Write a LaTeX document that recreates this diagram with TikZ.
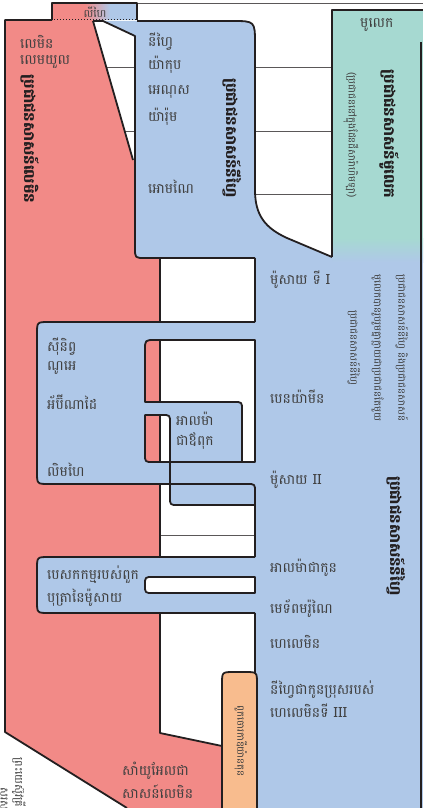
\documentclass[tikz,border=0pt]{standalone}
\usepackage{fontspec}
\newfontfamily\khmer[Script=Khmer]{Battambang}
\usetikzlibrary{positioning}

\definecolor{lamanred}{HTML}{F28A87}
\definecolor{nephiblue}{HTML}{AFC8E8}
\definecolor{mulekteal}{HTML}{A6D9D1}
\definecolor{robberorange}{HTML}{F8BC8E}
\definecolor{inkgray}{HTML}{231F20}
\definecolor{labelgray}{HTML}{404040}

\tikzset{
  edge/.style={draw=inkgray, line width=1.8pt, line join=round},
  timeline/.style={draw=inkgray!75, line width=0.6pt},
  person/.style={font=\khmer\fontsize{14}{23}\selectfont, text=labelgray, anchor=west, inner sep=0pt, align=left},
  people/.style={font=\khmer\bfseries\fontsize{15}{18}\selectfont, text=inkgray, rotate=-90, inner sep=0pt},
  remark/.style={font=\khmer\fontsize{10}{24}\selectfont, text=labelgray, rotate=-90, inner sep=0pt, align=center},
}

\begin{document}
\begin{tikzpicture}[x=1pt,y=-1pt]
\useasboundingbox (0,0) rectangle (423,808);
\fill[white] (0,0) rectangle (423,808);

% time lines
\draw[timeline] (137,3) -- (423,3);
\draw[timeline] (106,67) -- (135,67);
\draw[timeline] (124,131) -- (135,131);
\draw[timeline] (255,67) -- (332,67);
\draw[timeline] (255,131) -- (332,131);
\draw[timeline] (255,194) -- (332,194);
\draw[timeline] (160,535) -- (255,535);

% Lamanites
\fill[lamanred] (5,20) -- (93,20) -- (133,160) -- (160,160) -- (160,733) -- (222,746) -- (222,808) -- (127,808) -- (5,732) -- cycle;
\draw[edge] (52,20) -- (5,20) -- (5,732) -- (127,808);
\draw[edge] (93,21) -- (133,160);
\draw[edge] (160,258) -- (160,733) -- (222,746);

% Lehi
\fill[lamanred] (52,3) rectangle (95,20);
\fill[nephiblue] (95,3) rectangle (137,20);
\shade[left color=lamanred, right color=nephiblue] (85,3) rectangle (110,20);
\draw[edge] (52,20) -- (52,3) -- (137,3) -- (137,20);
\draw[inkgray, dotted, line width=1pt] (54,20) -- (136,20);
\node[person, anchor=center, font=\khmer\fontsize{11}{12}\selectfont] (lehi) at (95,12) {លីហៃ};

% Mulekites and united Nephites
\fill[nephiblue] (255,257) rectangle (423,808);
\fill[mulekteal] (332,10) rectangle (423,240);
\shade[top color=mulekteal, bottom color=nephiblue] (332,238) rectangle (423,262);
\draw[edge] (332,257) -- (332,10) -- (423,10);
\draw[edge] (421,42) -- (421,808);

% Nephites
\fill[nephiblue] (103,21) -- (232,21) .. controls (255,21) .. (255,44) -- (255,190)
  .. controls (255,215) and (265,228) .. (287,238) -- (332,257) -- (332,262) -- (255,262)
  -- (255,258) -- (145,258) .. controls (135,258) .. (135,248) -- (135,36) -- cycle;
\draw[edge] (93,21) -- (103,21) -- (135,36) -- (135,248) .. controls (135,258) .. (145,258) -- (255,258);
\draw[edge] (137,21) -- (232,21) .. controls (255,21) .. (255,44) -- (255,190)
  .. controls (255,215) and (265,228) .. (287,238) -- (332,257);

% people of Zeniff and Alma
\fill[nephiblue, even odd rule] (255,322) -- (49,322) .. controls (37,322) .. (37,334) -- (37,472)
  .. controls (37,484) .. (49,484) -- (255,484) -- cycle
  (155,340) -- (255,340) -- (255,462) -- (242,462) -- (242,410) .. controls (242,402) .. (234,402)
  -- (145,402) -- (145,350) .. controls (145,340) .. (155,340)
  (145,415) -- (162,415) .. controls (170,415) .. (170,423) -- (170,462) -- (153,462)
  .. controls (145,462) .. (145,454) -- cycle;
\fill[nephiblue] (170,462) -- (255,462) -- (255,505) -- (178,505) .. controls (170,505) .. (170,497) -- cycle;
\draw[edge] (255,322) -- (49,322) .. controls (37,322) .. (37,334) -- (37,472)
  .. controls (37,484) .. (49,484) -- (247,484) .. controls (255,484) .. (255,492) -- (255,505);
\draw[edge] (155,340) -- (255,340) -- (255,462) -- (242,462) -- (242,410) .. controls (242,402) .. (234,402)
  -- (145,402) -- (145,350) .. controls (145,340) .. (155,340);
\draw[edge] (145,415) -- (162,415) .. controls (170,415) .. (170,423) -- (170,462) -- (153,462)
  .. controls (145,462) .. (145,454) -- cycle;
\draw[edge] (170,462) -- (242,462);
\draw[edge] (170,462) -- (170,497) .. controls (170,505) .. (178,505) -- (255,505);

% sons of Mosiah
\fill[nephiblue] (255,557) -- (49,557) .. controls (37,557) .. (37,569) -- (37,601)
  .. controls (37,613) .. (49,613) -- (255,613) -- cycle;
\draw[edge] (255,557) -- (49,557) .. controls (37,557) .. (37,569) -- (37,601)
  .. controls (37,613) .. (49,613) -- (255,613);
\filldraw[edge, fill=white] (255,577) -- (153,577) .. controls (145,577) .. (145,585)
  .. controls (145,593) .. (153,593) -- (255,593) -- cycle;

% main column edge
\draw[edge] (255,258) -- (255,322);
\draw[edge] (255,505) -- (255,557);
\draw[edge] (255,613) -- (255,680);

% Gadianton robbers
\filldraw[edge, fill=robberorange] (222,808) -- (222,684) .. controls (222,672) .. (234,672) -- (245,672)
  .. controls (257,672) .. (257,684) -- (257,808);

% names
\node[person] (laman) at (20,42) {លេមិន};
\node[person] (lemuel) at (20,62) {លេមយួល};
\node[person] (nephi) at (148,42) {នីហ្វៃ};
\node[person] (jacob) at (148,65) {យ៉ាកុប};
\node[person] (enos) at (148,92) {អេណុស};
\node[person] (jarom) at (148,117) {យ៉ារ៉ុម};
\node[person] (omni) at (148,187) {អោមណៃ};
\node[person] (mulek) at (360,25) {មូលេក};
\node[person] (mosiahI) at (270,280) {ម៉ូសាយ ទី I};
\node[person] (benjamin) at (270,397) {បេនយ៉ាមីន};
\node[person] (mosiahII) at (270,480) {ម៉ូសាយ II};
\node[person] (zeniff) at (47,347) {ស៊ីនិព្វ};
\node[person] (noah) at (47,368) {ណូអេ};
\node[person] (abinadi) at (47,402) {អ័ប៊ីណាដៃ};
\node[person] (limhi) at (47,470) {លិមហៃ};
\node[person, font=\khmer\fontsize{14}{20}\selectfont] (almaelder) at (176,431) {អាលម៉ា\\ជាឪពុក};
\node[person] (sonsmosiah) at (47,586) {បេសកកម្មរបស់ពួក\\បុត្រានៃម៉ូសាយ};
\node[person] (almayounger) at (270,568) {អាលម៉ាជាកូន};
\node[person] (moroni) at (270,608) {មេទ័ពមរ៉ូណៃ};
\node[person] (helaman) at (270,642) {ហេលេមិន};
\node[person] (nephison) at (270,699) {នីហ្វៃជាកូនប្រុសរបស់\\ហេលេមិនទី III};
\node[person] (samuel) at (122,780) {សាំយូអែលជា\\សាសន៍លេមិន};

% peoples
\node[people] (lamanites) at (30,139) {ប្រជាជនសាសន៍លេមិន};
\node[people] (nephites) at (232,138) {ប្រជាជនសាសន៍នីហ្វៃ};
\node[people] (mulekites) at (389,134) {ប្រជាជនសាសន៍មូលេក};
\node[remark] (zarahemla) at (351,135) {(ប្រជាជននៅក្នុងដែនដីសារ៉ាហិមឡា)};
\node[remark] (united) at (378,348) {ប្រជាជនសាសន៍នីហ្វៃ និងប្រជាជនសាសន៍\\មូលេកបានរួបរួមគ្នាក្លាយជាប្រជាជនតែមួយ\\ប្រជាជនសាសន៍នីហ្វៃ};
\node[people] (nephitesII) at (396,536) {ប្រជាជនសាសន៍នីហ្វៃ};
\node[remark] (robbers) at (241,741) {ពួកចោរកាឌីយ៉ានតុន};
\node[remark, anchor=west, font=\khmer\fontsize{11}{12}\selectfont] (jesus) at (19,757) {ព្រះយេស៊ូវគ្រីស្ទយាងមក};
\node[remark, anchor=west, font=\khmer\fontsize{11}{12}\selectfont] (visit) at (3,787) {សួរសុខទុក្ខប្រជាជន};
\end{tikzpicture}
\end{document}
